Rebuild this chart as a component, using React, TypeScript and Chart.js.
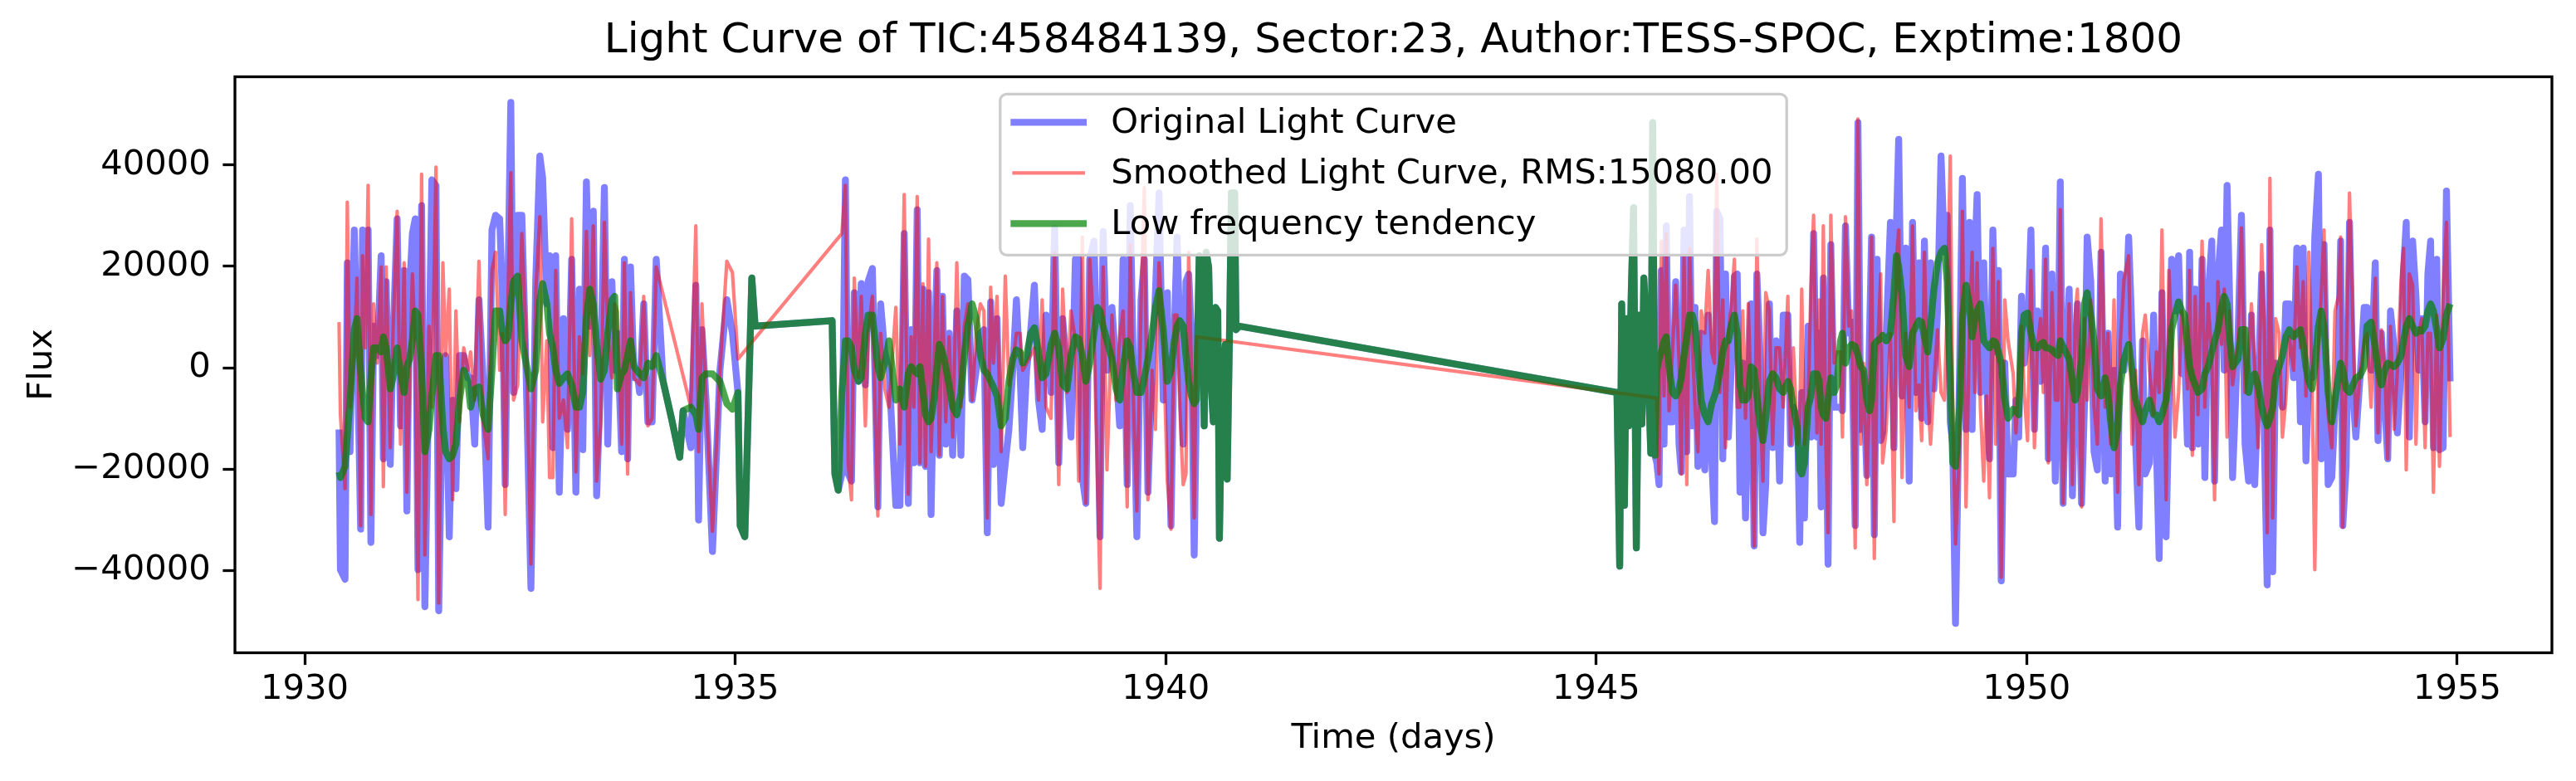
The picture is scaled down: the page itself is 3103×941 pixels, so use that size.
import { useEffect, useRef } from "react";
import { Chart, registerables } from "chart.js";
Chart.register(...registerables);

const TITLE = "Light Curve of TIC:458484139, Sector:23, Author:TESS-SPOC, Exptime:1800";
const xTicks = [1930, 1935, 1940, 1945, 1950, 1955];
const yTicks = [-40000, -20000, 0, 20000, 40000];
const legendLabels = [
  "Original Light Curve",
  "Smoothed Light Curve, RMS:15080.00",
  "Low frequency tendency",
];

// time (days) shared by the three curves
const time = [
  1930.399, 1930.415, 1930.469, 1930.495, 1930.527, 1930.576, 1930.608, 1930.650, 1930.672, 1930.704,
  1930.737, 1930.769, 1930.801, 1930.843, 1930.888, 1930.914, 1930.946, 1930.994, 1931.026, 1931.074,
  1931.113, 1931.155, 1931.187, 1931.219, 1931.251, 1931.284, 1931.316, 1931.358, 1931.396, 1931.444,
  1931.477, 1931.525, 1931.557, 1931.605, 1931.637, 1931.679, 1931.718, 1931.756, 1931.798, 1931.847,
  1931.895, 1931.927, 1931.975, 1932.024, 1932.072, 1932.130, 1932.175, 1932.217, 1932.265, 1932.297,
  1932.329, 1932.361, 1932.394, 1932.426, 1932.474, 1932.522, 1932.571, 1932.628, 1932.683, 1932.731,
  1932.764, 1932.812, 1932.844, 1932.883, 1932.915, 1932.957, 1933.005, 1933.053, 1933.101, 1933.150,
  1933.191, 1933.230, 1933.272, 1933.311, 1933.352, 1933.391, 1933.439, 1933.481, 1933.520, 1933.568,
  1933.600,
  1933.632, 1933.681, 1933.713, 1933.751, 1933.784, 1933.825, 1933.858, 1933.890, 1933.938, 1933.986,
  1934.035, 1934.083, 1934.163, 1934.260, 1934.356, 1934.395, 1934.485, 1934.543, 1934.575, 1934.614,
  1934.662, 1934.736, 1934.823, 1934.903, 1934.968, 1935.032, 1935.058, 1935.112, 1935.193, 1935.232,
  1936.126, 1936.158, 1936.197, 1936.239, 1936.280, 1936.313, 1936.351, 1936.383, 1936.432, 1936.464,
  1936.512, 1936.544, 1936.593, 1936.625, 1936.657, 1936.689, 1936.737, 1936.786,
  1936.866, 1936.914, 1936.963, 1937.011, 1937.043, 1937.075, 1937.114, 1937.146, 1937.181, 1937.210,
  1937.246, 1937.275, 1937.307, 1937.342, 1937.371, 1937.407, 1937.445, 1937.484, 1937.526, 1937.574,
  1937.622, 1937.661, 1937.703, 1937.751, 1937.799, 1937.848, 1937.889, 1937.928, 1937.967, 1937.999,
  1938.041, 1938.089, 1938.137, 1938.179, 1938.224, 1938.266, 1938.308, 1938.340, 1938.385, 1938.433,
  1938.475, 1938.523, 1938.565, 1938.610, 1938.668, 1938.710, 1938.758, 1938.803, 1938.855, 1938.900,
  1938.951, 1938.990, 1939.032, 1939.073, 1939.118, 1939.167, 1939.205, 1939.237, 1939.273, 1939.318,
  1939.376, 1939.424, 1939.466, 1939.505, 1939.553, 1939.588, 1939.627, 1939.665, 1939.714, 1939.752,
  1939.794, 1939.842, 1939.881, 1939.923, 1939.971, 1940.019, 1940.061, 1940.100,
  1940.132, 1940.164, 1940.203, 1940.235, 1940.267, 1940.299, 1940.331, 1940.357, 1940.389, 1940.422,
  1940.447, 1940.470, 1940.499, 1940.528, 1940.553, 1940.579, 1940.605, 1940.624, 1940.653, 1940.692,
  1940.714, 1940.740, 1940.763, 1940.801, 1940.817, 1940.856,
  1945.241, 1945.273, 1945.296, 1945.328, 1945.351, 1945.376, 1945.408, 1945.434, 1945.466, 1945.499,
  1945.531, 1945.553, 1945.585, 1945.634, 1945.656, 1945.682, 1945.704, 1945.730, 1945.756, 1945.788,
  1945.814, 1945.846, 1945.885, 1945.923, 1945.962, 1945.988, 1946.020, 1946.052, 1946.084, 1946.116,
  1946.148, 1946.181, 1946.219, 1946.261, 1946.300, 1946.342, 1946.374, 1946.399, 1946.438, 1946.470,
  1946.502, 1946.535, 1946.567, 1946.605, 1946.638, 1946.670, 1946.702, 1946.734, 1946.766, 1946.798,
  1946.834, 1946.866, 1946.905, 1946.937, 1946.969, 1947.011, 1947.049, 1947.088, 1947.130, 1947.172,
  1947.226, 1947.258, 1947.290, 1947.339, 1947.364, 1947.387, 1947.419, 1947.461, 1947.493, 1947.525,
  1947.564, 1947.590, 1947.612, 1947.638, 1947.667, 1947.693, 1947.725, 1947.763, 1947.796, 1947.837,
  1947.860, 1947.895, 1947.934, 1947.966, 1948.008, 1948.040, 1948.072, 1948.104, 1948.143, 1948.175,
  1948.198, 1948.230, 1948.262, 1948.304, 1948.326, 1948.368, 1948.417, 1948.458, 1948.487, 1948.513,
  1948.552, 1948.594, 1948.635, 1948.674, 1948.713, 1948.748, 1948.780, 1948.812, 1948.851, 1948.883,
  1948.922, 1948.964, 1949.005, 1949.044, 1949.076, 1949.112, 1949.141, 1949.173, 1949.221, 1949.253,
  1949.295, 1949.334, 1949.366, 1949.398, 1949.424, 1949.462, 1949.501, 1949.533, 1949.568, 1949.607,
  1949.639, 1949.671, 1949.704, 1949.745, 1949.784,
  1949.843, 1949.875, 1949.907, 1949.939, 1949.971, 1950.010, 1950.049, 1950.090, 1950.123, 1950.161,
  1950.193, 1950.219, 1950.251, 1950.293, 1950.332, 1950.364, 1950.390, 1950.422, 1950.461, 1950.493,
  1950.531, 1950.563, 1950.589, 1950.637, 1950.670, 1950.702, 1950.744, 1950.782, 1950.821, 1950.863,
  1950.911, 1950.943, 1950.975, 1951.014, 1951.056, 1951.088, 1951.130, 1951.184, 1951.223, 1951.265,
  1951.303, 1951.345, 1951.377, 1951.426, 1951.474, 1951.506, 1951.538, 1951.571, 1951.619, 1951.651,
  1951.683, 1951.722, 1951.764, 1951.802, 1951.834, 1951.867, 1951.892, 1951.924, 1951.957, 1951.989,
  1952.037, 1952.069, 1952.108, 1952.150, 1952.182, 1952.220, 1952.262, 1952.294, 1952.327, 1952.359,
  1952.391,
  1952.455, 1952.494, 1952.536, 1952.577, 1952.610, 1952.648, 1952.687, 1952.729, 1952.761, 1952.793,
  1952.825, 1952.857, 1952.890, 1952.931, 1952.970, 1953.009, 1953.050, 1953.099, 1953.137, 1953.179,
  1953.211, 1953.243, 1953.276, 1953.314, 1953.346, 1953.388, 1953.420, 1953.453, 1953.501, 1953.543,
  1953.581, 1953.620, 1953.646, 1953.671, 1953.710, 1953.749, 1953.790, 1953.823, 1953.871, 1953.919,
  1953.951, 1954.000, 1954.048, 1954.080, 1954.119, 1954.160, 1954.193, 1954.225, 1954.267, 1954.305,
  1954.347, 1954.376, 1954.408, 1954.444, 1954.482, 1954.521, 1954.553, 1954.588, 1954.627, 1954.659,
  1954.691, 1954.724, 1954.762, 1954.794, 1954.836, 1954.875, 1954.917,
];

// original light curve (blue)
const flux = [
  -12200, -39900, -41800, 20700, -16600, 27200, 6800, -31900, 27200, 11200,
  27200, -34500, 8200, 2400, 22100, -18000, 17000, -19100, 5300, 29400,
  -11500, 19200, -28300, 15500, 26500, 29400, -39900, 32000, -47200, 900,
  37100, 36000, -48000, 900, 2400, -33400, -6400, -23900, 2400, 2400,
  -2000, -2000, -15100, 13400, -2000, -31500, 27200, 30100, 29400, 14100,
  -23100, 17000, 52400, -4900, 30100, 30100, -500, -43600, 17000, 41800,
  37400, 12600, 22100, -15800, 22100, -24600, 9700, -12200, 21400, -24600,
  15500, -16200, 36700, 8200, 30900, -25300, -500, 35600, -15100, 17000,
  -500,
  6800, -16600, 21400, -18000, 19900, -2000, -500, -4900, 12600, -10700,
  -10700, 21400, -2700, -10000, -17700, -8500, -15800, 16300, -30100, 7500,
  -6400, -36300, -500, 13400, 6800, -4900, -31200, -33400, 17700, 8200,
  9300, -21000, -24200, -21000, 37100, -21000, -22400, 14800, -2700, 16600,
  -3400, 17000, 19600, -2700, -27500, 12600, 3100, -500,
  -27200, -27200, 26500, -26800, 7500, -18800, 31200, -18800, 15500, -19500,
  14800, -29000, -500, 19200, -17300, 14100, -15100, 6800, -17300, 11200,
  -17300, 18100, 17400, -6400, -500, 6800, 7500, -32600, 13000, -19100,
  9700, -26800, -18800, -12200, -500, 13400, -500, -15800, -500, 7500,
  16300, -6400, -12200, 10400, -4900, 27600, -18800, 9700, -500, -13700,
  21400, 21400, -21700, -26800, 21400, 25000, 900, -33400, 26900, -500,
  11900, -500, -11500, 21400, -23100, 32000, -2000, -33400, 13400, 21400,
  -24600, -500, 14800, 34500, -6400, 14800, -31200, 6800,
  25800, 6800, -15100, 17000, 18500, 6800, -37000, -6400, 22100, 19900,
  -11500, 22800, 19900, -3400, -10700, 11900, 11200, -33700, -3400, 4600,
  -22000, 5300, 34500, 34500, 7500, 8200,
  -4900, -39200, 12600, -27200, 9700, -11500, 15500, 31600, -35600, 10400,
  -11100, 17700, 8200, -16900, 48400, -17300, -18800, -23100, 19200, -15100,
  28000, -10700, -10700, 17000, -15100, -20600, 27200, -16600, 33800, -11500,
  11900, -19500, 6800, -20200, 10400, -18000, -30400, 30900, 29400, -18000,
  18500, -13700, -500, 18100, 18500, -24600, 900, -29700, -5600, 12600,
  -35200, 18500, 1700, -32600, -23100, 12600, -15800, 5300, -22400, 10400,
  10400, -15100, -7800, -10700, -34500, -4900, -29700, 8200, -13700, 26500,
  -13700, 6800, -27500, 17700, -4200, -38800, 24300, -7800, -7800, -7800,
  -8500, 28000, 6800, 9000, -31200, 48400, -12200, -1200, -21300, 6800,
  25800, -33000, 21400, -14400, -12900, 6100, 28700, -15800, 28000, 45100,
  -5600, 23600, -22400, 28700, -4900, 20700, -10000, 25000, -10700, 20700,
  -4200, 11200, 41800, 22800, 30100, -10700, -15100, -50500, 200, 37400,
  -12200, 28700, -12200, 22100, 34200, -4900, 20700, -1200, -18000, 27200,
  3100, 19200, -42100, 900, -21000,
  -21000, -6400, -13700, 14100, 900, 6800, 27200, -12200, 11200, -2700,
  3100, 23600, -18000, 18500, -22400, 900, 36700, -26800, 2400, 15500,
  -25300, 900, 12600, -26800, -7800, 25800, 17000, -16600, -20200, 22800,
  -22400, 6800, -21000, -500, -31500, 18500, -500, 25800, 6800, -15100,
  -31500, 5300, -21000, -18800, 10400, -15100, -37700, 14800, -33400, -7800,
  21400, 11200, 22100, -1200, 3100, -15100, 22800, -15800, 15500, -15100,
  21400, -21700, 14100, 25000, -22400, 17700, 27200, -500, 36000, 11900,
  -21700,
  6800, 30100, -15100, -22400, 10400, -23100, -4900, 18500, -15100, -42900,
  27200, -40300, 900, -4900, -7800, 12600, 12600, -2000, 23600, -10700,
  23600, -18400, -2000, -2000, 25800, 38200, -18000, 24300, -23100, -21700,
  -7800, -500, 25000, -31200, -19500, 28700, -5600, -13700, -2000, 11900,
  11900, -500, 20700, -14400, 6800, -7800, -18000, 11200, 3900, -12900,
  -500, 19200, 28700, -13700, 25000, 14100, -500, 9700, -10700, 18500,
  25000, -15800, 21400, -16200, -15800, 34900, -2700,
];

// smoothed light curve (red), null where it has no point
const smooth = [
  9000, -9300, -23900, 32700, -7800, 3100, 17700, -31200, 22100, 3900,
  36000, -29000, 12600, 900, 19900, -23500, 19900, -15800, 6800, 30900,
  -15100, 20700, -24600, -2700, 18500, 4600, -45800, 38200, -37000, 8200,
  -7800, 39600, -46500, 20700, 2400, 15500, -26100, 11200, -10700, 3900,
  -500, 3100, -6400, 21000, -10700, -18000, 19200, 22800, -500, 6800,
  -29000, 13400, 38500, -6400, -3400, 26500, 6800, -38800, 14800, 29800,
  -10700, 5300, -21700, -21700, 19200, -10000, -6400, -15800, 29400, -20600,
  6100, -1200, 26900, 2400, 28000, -22400, -10700, 28700, 6800, -2000,
  12600,
  11200, -15100, 20700, -21000, 14800, -2000, -2700, -3400, 14100, -11500,
  -10000, 19900, null, null, null, null, -7800, 28000, -16600, 12600,
  -6400, -32300, -500, 21000, 18800, 1700, null, null, null, null,
  null, null, null, 26500, 36000, -18800, -26100, 17700, -2000, 14100,
  -11500, 6800, 14100, -7800, -29300, 6800, -4200, -7800,
  11900, -15100, 34200, -25000, 6100, -7800, 33800, -18800, 16600, -19500,
  25400, -16600, -500, 20700, -17300, 14100, -10700, 6100, -13700, 20700,
  -7800, 8200, 12600, -6400, 6800, 12600, 11200, -29700, 15900, 900,
  14100, -16600, 18100, -3400, 900, 6800, 6800, -500, 900, 2400,
  3900, -6400, 13400, -7800, -10000, 22800, -23100, 15500, -4900, 11200,
  5300, -22400, 25800, -26800, 21400, 6800, -20200, -43600, 19900, -20200,
  10400, -6400, 6100, 11200, -27500, 24300, -7800, -28300, 12600, 35600,
  -26100, -500, -12200, 20700, 6800, -22400, -31900, 10400,
  10400, -7800, -23100, -21000, 22800, -500, -29700, 6100, null, null,
  null, null, null, null, null, null, null, null, null, null,
  null, null, null, null, null, null,
  null, null, null, null, null, null, null, null, null, null,
  null, null, null, null, null, null, -6000, -21000, 25000, -5600,
  26500, -8500, 3100, 16300, 1700, -21000, 22100, -23100, 23600, 4600,
  -7800, -16600, 11200, 6800, 19200, 3100, 900, 38200, -4900, 13400,
  -15800, 6800, 11900, 21400, -7800, -7800, 11200, -10000, 12600, -5600,
  -35200, 25400, -7800, -22400, 14800, 11200, -15100, 3900, 3900, -7800,
  14100, -15100, 3900, -15100, -11500, 15500, -15100, -7800, 15500, 30100,
  -12900, 13400, -15100, 28000, -15100, -32600, 30100, 900, 3100, 3100,
  -13700, 29800, 8200, 11200, -35600, 49100, -15100, 900, -23100, -4900,
  25800, -37700, 900, 18500, -18800, -12200, 6800, -30400, 21400, 27200,
  -21700, 6800, -7800, 28000, -8500, -3400, -14400, 22800, -4900, -15100,
  -3400, 7500, -4900, -6400, 11200, 41800, -7800, -34800, -15100, 30900,
  -27500, 6800, 22800, -4900, 20700, -7800, -22400, -5600, -25700, 23600,
  -15100, 17000, -41400, 13400, 5300,
  -1200, -12900, -2000, 8200, -4900, -14400, 19200, -15800, 3900, 9700,
  -4900, 21400, -18800, 14800, -6400, -6400, 31200, -26800, -7800, 12600,
  -23100, 10400, 15500, -27500, 9700, -6400, 13400, -7800, -15100, 29400,
  -7800, 6800, -15100, 13400, -24600, 5300, 17400, 22100, -15100, -500,
  -23100, 6800, 10400, -500, -9300, 3100, -4900, 27200, -26100, 19200,
  6800, -13700, -4900, 11200, 6800, -4200, 19200, -17300, 14100, -9300,
  25000, -7800, 12600, 2400, -26100, 17000, 4600, 15500, -13700, 11200,
  -3400,
  5300, 27600, -4900, 2400, 12600, 200, -15800, 24300, 6800, -32600,
  37400, -29700, 9700, 6800, -13700, -6400, 6100, -500, 19900, 3900,
  17000, -5600, 22800, -2000, -39900, 4600, 14100, 27200, -9300, -15800,
  11200, 14100, 25800, -31500, -500, 34500, 6800, -11500, -1200, 5300,
  6800, -7800, 17700, -12900, 7500, -500, -18000, 8200, -12200, -500,
  17000, 23600, -20200, 18500, 16300, -15100, 6800, 9700, -15800, 6800,
  6800, -24600, 10400, -19500, 14100, 28700, -13700,
];

// low frequency tendency (green)
const trend = [
  -20600, -21700, -19500, -13700, -6400, 7500, 9700, -500, -4900, -10000,
  -10700, -2000, 3900, 3900, 3100, 6100, 3900, -4200, -2000, 3900,
  -1200, -4900, 200, 1700, 5300, 11200, 10400, -500, -16600, -12200,
  -5600, 2400, 2400, -11500, -16600, -18000, -17300, -15100, -6400, -500,
  -2700, -7800, -4200, -3800, -9300, -12200, -500, 11200, 11200, 6800,
  5300, 6100, 12600, 17000, 18100, 5300, 900, -4200, -500, 13400,
  16600, 12600, 6800, 3900, -500, -3100, -2000, -1200, -3400, -7800,
  -7800, -4900, 9700, 15500, 12600, 4600, -2300, -500, 6800, 13400,
  14100,
  -4200, -1200, -500, 2400, 5300, 200, -500, -1200, -2000, 900,
  200, 2400, -2700, -10000, -17700, -8500, -7800, -9300, -12200, -2000,
  -1200, -1200, -2700, -7100, -8200, -4900, -31200, -33400, 17700, 8200,
  9300, -21000, -24200, -4900, 5300, 5300, 3900, -500, -2700, -2000,
  6800, 10400, 10400, 5300, 200, -2000, 900, 5300,
  -6400, -4200, -7800, -1200, 200, -500, -1200, 200, -4900, -9300,
  -10700, -10000, -6400, -500, 4600, 3100, 200, -3400, -7800, -9300,
  -4900, 2400, 8200, 12600, 9700, 2400, -500, -1200, -2700, -3800,
  -5600, -11500, -10000, -2700, 1700, 3500, 3100, 900, 2400, 6800,
  7900, 3100, -2000, -1200, 4600, 6800, 3900, -3400, -4200, 2400,
  6100, 5700, 2400, -2700, 900, 6800, 11900, 11200, 8200, 5300,
  1700, -4200, -6400, 200, 5300, 3900, -1200, -4900, -4900, -2000,
  1700, 6800, 11900, 15200, 7500, -2700, -500, 5300,
  8200, 9300, 8200, 2400, -2700, -5600, -7100, -6400, 22100, 19900,
  -11500, 22800, 19900, -3400, -10700, 11900, 11200, -33700, -3400, 4600,
  -22000, 5300, 34500, 34500, 7500, 8200,
  -4900, -39200, 12600, -27200, 9700, -11500, 15500, 31600, -35600, 10400,
  -11100, 17700, 8200, -16900, 48400, -17300, -500, 1700, 3100, 5300,
  6100, 200, -4900, -5600, -4200, -2000, 2400, 6100, 10400, 10400,
  8200, 1700, -6400, -9300, -10700, -7100, -5600, -4200, -500, 3100,
  5300, 5300, 8200, 10400, 6800, -3400, -6400, -6400, -5600, 200,
  -500, -5600, -11500, -14400, -10000, -2700, -1200, -2000, -4200, -4900,
  -2700, -4200, -7800, -12200, -20200, -21000, -18800, -7800, -5600, -1200,
  -1200, -2700, -7800, -9300, -10000, -6400, -2000, -4900, -3400, 5300,
  6800, 900, 3900, 4600, 4200, 2400, 200, -500, -6400, -8500,
  -6400, 4600, 5300, 5700, 6400, 5300, 6800, 14800, 22100, 19900,
  14100, 2400, 200, 6800, 8200, 9300, 9000, 6100, 3100, 8200,
  15500, 20700, 22800, 23600, 17000, -2000, -18800, -19500, -7800, 9700,
  16300, 12600, 6100, 9700, 11200, 12600, 5300, 4600, 3900, 5300,
  5000, 3100, 900, -6400, -10000,
  -8200, -8500, -9300, 6800, 10400, 10800, 6800, 3900, 3900, 4600,
  5000, 3900, 3900, 3500, 2800, 2400, 5300, 4200, 2800, 1700,
  -2700, -6400, -4900, 1700, 12600, 14800, 10400, 5300, -4200, -5600,
  -2000, -4900, -10700, -15800, -12200, -3400, 1700, 4600, -500, -6400,
  -8500, -10700, -8500, -6400, -9300, -9300, -10700, -9300, -6400, -2000,
  7500, 10400, 13000, 11200, 10400, 4600, 200, -2000, -3400, -4900,
  -4200, -1200, 200, 3100, 5300, 7500, 11900, 14100, 12600, 5300,
  200,
  1700, 7500, 7500, -4900, -2000, -1200, -3400, -7800, -10000, -11500,
  -10000, -7800, -2000, 200, 2400, 6100, 7500, 6100, 6800, 7500,
  4600, 200, -2700, -4200, 200, 8200, 11200, 8200, -4900, -10700,
  -6400, -2000, 900, -500, -4200, -4900, -3400, -2000, -1600, 200,
  8200, 9000, 3900, -500, -3400, -500, 900, 600, 200, 900,
  2400, 5300, 8200, 9700, 8200, 6800, 7500, 7200, 8200, 11200,
  12600, 11200, 7500, 3900, 5700, 10400, 12600,
];

const FONT = "DejaVu Sans";
const TICK_SIZE = 41.7;

const minusFormat = (v: number) => (v < 0 ? "\u2212" + Math.abs(v) : String(v));

const framePlugin = {
  id: "axesFrame",
  afterDatasetsDraw(chart: any) {
    const { ctx, chartArea: a } = chart;
    ctx.save();
    ctx.strokeStyle = "#000";
    ctx.lineWidth = 3.3;
    ctx.strokeRect(a.left, a.top, a.right - a.left, a.bottom - a.top);
    ctx.restore();
  },
};

const legendPlugin = {
  id: "boxLegend",
  afterDraw(chart: any) {
    const { ctx, chartArea: a } = chart;
    const fs = TICK_SIZE;
    ctx.save();
    ctx.font = `${fs}px "${FONT}"`;
    const textW = Math.max(...legendLabels.map((l) => ctx.measureText(l).width));
    const pad = 0.4 * fs;
    const handle = 2 * fs;
    const gap = 0.8 * fs;
    const w = pad + handle + gap + textW + pad;
    const h = 194;
    const left = (a.left + a.right) / 2 - w / 2;
    const top = a.top + 0.5 * fs;
    const r = 8;
    ctx.beginPath();
    ctx.moveTo(left + r, top);
    ctx.lineTo(left + w - r, top);
    ctx.arcTo(left + w, top, left + w, top + r, r);
    ctx.lineTo(left + w, top + h - r);
    ctx.arcTo(left + w, top + h, left + w - r, top + h, r);
    ctx.lineTo(left + r, top + h);
    ctx.arcTo(left, top + h, left, top + h - r, r);
    ctx.lineTo(left, top + r);
    ctx.arcTo(left, top, left + r, top, r);
    ctx.closePath();
    ctx.fillStyle = "rgba(255,255,255,0.8)";
    ctx.fill();
    ctx.lineWidth = 3.3;
    ctx.strokeStyle = "#cccccc";
    ctx.stroke();
    chart.data.datasets.forEach((ds: any, i: number) => {
      const cy = top + 34 + i * 61;
      ctx.beginPath();
      ctx.moveTo(left + pad, cy);
      ctx.lineTo(left + pad + handle, cy);
      ctx.strokeStyle = ds.borderColor;
      ctx.lineWidth = ds.borderWidth;
      ctx.lineCap = "square";
      ctx.stroke();
      ctx.fillStyle = "#000";
      ctx.textBaseline = "middle";
      ctx.textAlign = "left";
      ctx.fillText(legendLabels[i], left + pad + handle + gap, cy + 2);
    });
    ctx.restore();
  },
};

export default function App() {
  const ref = useRef<HTMLCanvasElement>(null);

  useEffect(() => {
    const bluePts = time.map((t, i) => ({ x: t, y: flux[i] }));
    const redPts = time
      .map((t, i) => ({ x: t, y: smooth[i] }))
      .filter((p) => p.y !== null && p.y !== undefined);
    const greenPts = time.map((t, i) => ({ x: t, y: trend[i] }));

    const tickFont = { family: FONT, size: TICK_SIZE };

    const chart = new Chart(ref.current!, {
      type: "line",
      data: {
        datasets: [
          {
            label: legendLabels[0],
            data: bluePts,
            borderColor: "rgba(0,0,255,0.5)",
            borderWidth: 8.3,
            pointRadius: 0,
            tension: 0,
            borderJoinStyle: "round",
            order: 3,
          },
          {
            label: legendLabels[1],
            data: redPts as any,
            borderColor: "rgba(255,0,0,0.5)",
            borderWidth: 4.2,
            pointRadius: 0,
            tension: 0,
            borderJoinStyle: "round",
            order: 2,
          },
          {
            label: legendLabels[2],
            data: greenPts,
            borderColor: "rgba(0,128,0,0.7)",
            borderWidth: 8.3,
            pointRadius: 0,
            tension: 0,
            borderJoinStyle: "round",
            order: 1,
          },
        ],
      },
      options: {
        animation: false,
        responsive: true,
        maintainAspectRatio: false,
        devicePixelRatio: 1,
        events: [],
        layout: { padding: { left: 0, right: 29, top: 0, bottom: 0 } },
        plugins: {
          legend: { display: false },
          tooltip: { enabled: false },
          title: {
            display: true,
            text: TITLE,
            color: "#000",
            fullSize: false,
            font: { family: FONT, size: 50, weight: "normal" },
            padding: { top: 20.5, bottom: 12 },
          },
        },
        scales: {
          x: {
            type: "linear",
            min: 1929.19,
            max: 1956.1,
            afterBuildTicks: (scale: any) => {
              scale.ticks = xTicks.map((v) => ({ value: v }));
            },
            afterFit: (scale: any) => {
              scale.height = 154.5;
            },
            ticks: {
              color: "#000",
              font: tickFont,
              padding: 5.4,
              maxRotation: 0,
              autoSkip: false,
              callback: (v: any) => minusFormat(Number(v)),
            },
            grid: {
              display: true,
              drawOnChartArea: false,
              drawTicks: true,
              tickLength: 14.6,
              tickWidth: 3.3,
              tickColor: "#000",
            },
            border: { display: false },
            title: {
              display: true,
              text: "Time (days)",
              color: "#000",
              font: tickFont,
              padding: { top: 0, bottom: 26 },
            },
          },
          y: {
            type: "linear",
            min: -56300,
            max: 57450,
            afterBuildTicks: (scale: any) => {
              scale.ticks = yTicks.map((v) => ({ value: v }));
            },
            afterFit: (scale: any) => {
              scale.width = 283;
            },
            ticks: {
              color: "#000",
              font: tickFont,
              padding: 14.6,
              autoSkip: false,
              callback: (v: any) => minusFormat(Number(v)),
            },
            grid: {
              display: true,
              drawOnChartArea: false,
              drawTicks: true,
              tickLength: 14.6,
              tickWidth: 3.3,
              tickColor: "#000",
            },
            border: { display: false },
            title: {
              display: true,
              text: "Flux",
              color: "#000",
              font: tickFont,
              padding: { top: 26, bottom: 0 },
            },
          },
        },
      },
      plugins: [framePlugin, legendPlugin],
    } as any);

    return () => {
      chart.destroy();
    };
  }, []);

  return (
    <div
      style={{
        position: "absolute",
        left: 0,
        top: 0,
        width: 3103,
        height: 941,
        background: "#fff",
      }}
    >
      <canvas ref={ref}></canvas>
    </div>
  );
}
